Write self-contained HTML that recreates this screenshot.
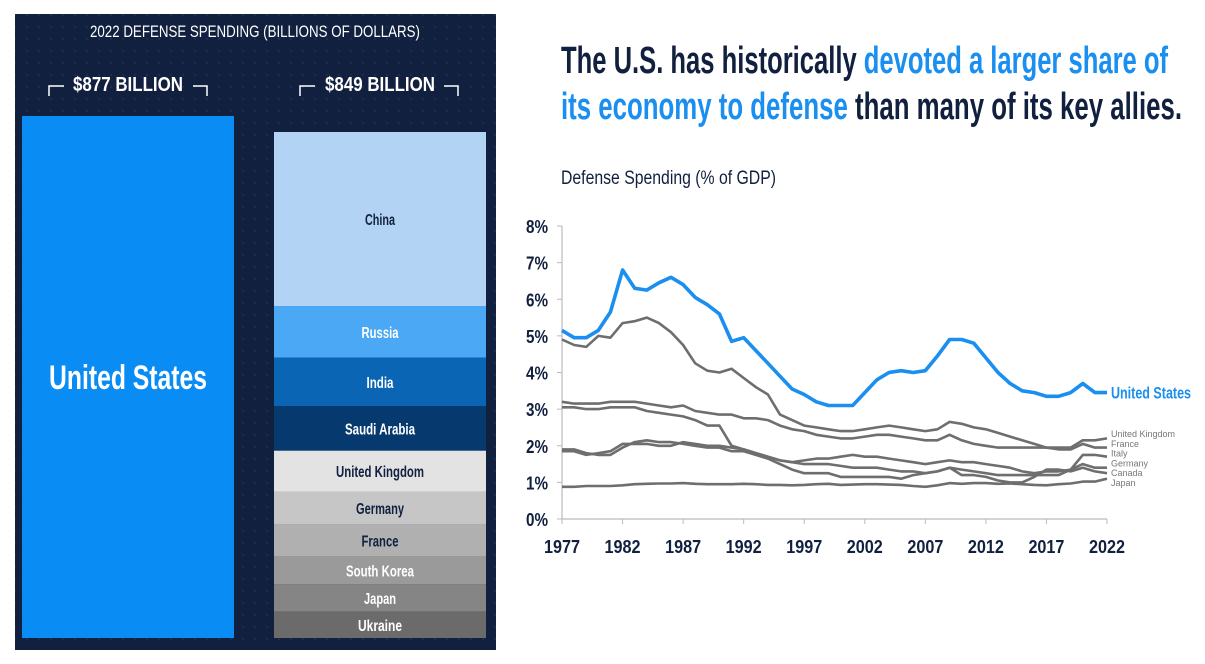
<!DOCTYPE html>
<html><head><meta charset="utf-8"><style>
html,body{margin:0;padding:0;background:#fff;width:1205px;height:664px;overflow:hidden}
svg{display:block;font-family:"Liberation Sans Narrow","Liberation Sans",sans-serif}
</style></head><body>
<svg id="root" width="1205" height="664" viewBox="0 0 1205 664" xmlns="http://www.w3.org/2000/svg">
<defs><pattern id="dots" width="12" height="12" patternUnits="userSpaceOnUse"><circle cx="3" cy="3" r="1.2" fill="#1b2b4d"/></pattern></defs>
<g>
<rect x="15" y="14" width="481" height="636" fill="#12203f"/>
<rect x="15" y="14" width="481" height="636" fill="url(#dots)"/>
<text x="255" y="37" text-anchor="middle" fill="#fff" font-size="17" textLength="330" lengthAdjust="spacingAndGlyphs">2022 DEFENSE SPENDING (BILLIONS OF DOLLARS)</text>
<g stroke="#fff" stroke-width="1.5" fill="none"><path d="M49,96 V86 H64"/><path d="M193,86 H207 V96"/><path d="M300,96 V86 H315"/><path d="M444,86 H458 V96"/></g>
<text x="128" y="91" text-anchor="middle" fill="#fff" font-size="20" font-weight="bold" textLength="110" lengthAdjust="spacingAndGlyphs">$877 BILLION</text>
<text x="380" y="91" text-anchor="middle" fill="#fff" font-size="20" font-weight="bold" textLength="110" lengthAdjust="spacingAndGlyphs">$849 BILLION</text>
<rect x="22" y="116" width="212" height="522" fill="#0a8cf5"/>
<text x="128" y="389" text-anchor="middle" fill="#fff" font-size="34" font-weight="bold" textLength="158" lengthAdjust="spacingAndGlyphs">United States</text>
<g id="stack"></g>
</g>
<g>
<text x="561" y="73" font-size="38" font-weight="bold" fill="#12203f" textLength="607" lengthAdjust="spacingAndGlyphs">The U.S. has historically <tspan fill="#1a8ff0">devoted a larger share of</tspan></text>
<text x="561" y="119" font-size="38" font-weight="bold" fill="#12203f" textLength="621" lengthAdjust="spacingAndGlyphs"><tspan fill="#1a8ff0">its economy to defense</tspan> than many of its key allies.</text>
<text x="561" y="184" font-size="19" fill="#12203f" textLength="215" lengthAdjust="spacingAndGlyphs">Defense Spending (% of GDP)</text>
<g id="chart"></g>
</g>
</svg>
<script>
const stackNames=["China","Russia","India","Saudi Arabia","United Kingdom","Germany","France","South Korea","Japan","Ukraine"];
const stackValues=[292,86.4,81.4,75,68.5,55.8,53.6,46.4,46,44];
const stackFill=["#b3d3f5","#4aa8f5","#0a65b5","#063a6e","#e3e3e3","#c6c6c6","#b0b0b0","#9a9a9a","#858585","#6b6b6b"];
const stackText=["#12203f","#fff","#fff","#fff","#12203f","#12203f","#12203f","#fff","#fff","#fff"];
const stackLabelW=[30,37,27,70,88,48,37,68,32,44];

const years=[];for(let y=1977;y<=2022;y++)years.push(y);
const usValues=[5.15,4.95,4.95,5.15,5.65,6.8,6.3,6.25,6.45,6.6,6.4,6.05,5.85,5.6,4.85,4.95,4.6,4.25,3.9,3.55,3.4,3.2,3.1,3.1,3.1,3.45,3.8,4.0,4.05,4.0,4.05,4.45,4.9,4.9,4.8,4.4,4.0,3.7,3.5,3.45,3.35,3.35,3.45,3.7,3.45,3.45];
const ukValues=[4.9,4.75,4.7,5.0,4.95,5.35,5.4,5.5,5.35,5.1,4.75,4.25,4.05,4.0,4.1,3.85,3.6,3.4,2.85,2.7,2.55,2.5,2.45,2.4,2.4,2.45,2.5,2.55,2.5,2.45,2.4,2.45,2.65,2.6,2.5,2.45,2.35,2.25,2.15,2.05,1.95,1.95,1.95,2.15,2.15,2.2];
const franceValues=[3.2,3.15,3.15,3.15,3.2,3.2,3.2,3.15,3.1,3.05,3.1,2.95,2.9,2.85,2.85,2.75,2.75,2.7,2.55,2.45,2.4,2.3,2.25,2.2,2.2,2.25,2.3,2.3,2.25,2.2,2.15,2.15,2.3,2.15,2.05,2.0,1.95,1.95,1.95,1.95,1.95,1.9,1.9,2.05,1.95,1.95];
const germanyValues=[3.05,3.05,3.0,3.0,3.05,3.05,3.05,2.95,2.9,2.85,2.8,2.7,2.55,2.55,2.0,1.9,1.8,1.7,1.6,1.55,1.5,1.5,1.5,1.45,1.4,1.4,1.4,1.35,1.3,1.3,1.25,1.3,1.4,1.35,1.3,1.25,1.2,1.2,1.2,1.2,1.2,1.2,1.35,1.5,1.4,1.4];
const italyValues=[1.85,1.85,1.75,1.8,1.85,2.05,2.05,2.05,2.0,2.0,2.1,2.05,2.0,2.0,1.95,1.9,1.8,1.7,1.6,1.55,1.6,1.65,1.65,1.7,1.75,1.7,1.7,1.65,1.6,1.55,1.5,1.55,1.6,1.55,1.55,1.5,1.45,1.4,1.3,1.25,1.3,1.3,1.35,1.75,1.75,1.7];
const canadaValues=[1.9,1.9,1.8,1.75,1.75,1.95,2.1,2.15,2.1,2.1,2.05,2.0,1.95,1.95,1.85,1.85,1.75,1.65,1.5,1.35,1.25,1.25,1.25,1.15,1.15,1.15,1.15,1.15,1.1,1.2,1.25,1.3,1.4,1.2,1.2,1.15,1.05,1.0,1.0,1.15,1.35,1.35,1.3,1.4,1.3,1.25];
const japanValues=[0.88,0.88,0.9,0.9,0.9,0.92,0.95,0.96,0.97,0.97,0.98,0.96,0.95,0.95,0.95,0.96,0.95,0.93,0.93,0.92,0.93,0.95,0.96,0.93,0.94,0.95,0.95,0.94,0.93,0.9,0.88,0.92,0.98,0.96,0.98,0.98,0.96,0.97,0.95,0.93,0.92,0.95,0.97,1.02,1.02,1.1];
const yTicks=[0,1,2,3,4,5,6,7,8];
const xTicks=[1977,1982,1987,1992,1997,2002,2007,2012,2017,2022];
const greyLabels=["United Kingdom","France","Italy","Germany","Canada","Japan"];

const NS="http://www.w3.org/2000/svg";
function mk(tag,attrs,parent,txt){const e=document.createElementNS(NS,tag);for(const k in attrs)e.setAttribute(k,attrs[k]);if(txt!==undefined)e.textContent=txt;parent.appendChild(e);return e;}

const stack=document.getElementById('stack');
const total=stackValues.reduce((a,b)=>a+b,0);
const sTop=132,sBot=638;
let cy=sTop;
stackValues.forEach((v,i)=>{
  const h=v/total*(sBot-sTop);
  const r=mk('rect',{x:274,y:cy,width:212,height:h,fill:stackFill[i]},stack);
  
  
  const t=mk('text',{x:380,y:cy+h/2+6,'text-anchor':'middle',fill:stackText[i],'font-size':16,'font-weight':'bold',textLength:stackLabelW[i],lengthAdjust:'spacingAndGlyphs'},stack,stackNames[i]);
  
  
  cy+=h;
});

const g=document.getElementById('chart');
const x0=562,x1=1107,yb=519,yt=226;
const xs=y=>x0+(y-1977)/(2022-1977)*(x1-x0);
const ys=v=>yb-v/8*(yb-yt);
const ax=mk('path',{d:`M${x0},${ys(8)} V${yb} H${x1}`,stroke:'#bbb','stroke-width':1.2,fill:'none'},g);


yTicks.forEach(t=>{
  mk('line',{x1:x0-5,x2:x0,y1:ys(t),y2:ys(t),stroke:'#bbb'},g);
  const l=mk('text',{x:548,y:ys(t)+7,'text-anchor':'end','font-size':18,'font-weight':'bold',fill:'#12203f',textLength:22,lengthAdjust:'spacingAndGlyphs'},g,t+'%');
  
  
});
xTicks.forEach(t=>{
  mk('line',{x1:xs(t),x2:xs(t),y1:yb,y2:yb+5,stroke:'#bbb'},g);
  const l=mk('text',{x:xs(t),y:553,'text-anchor':'middle','font-size':18,'font-weight':'bold',fill:'#12203f',textLength:36,lengthAdjust:'spacingAndGlyphs'},g,String(t));
  
  
});
function line(vals,color,w,name){
  const d=vals.map((v,i)=>(i?'L':'M')+xs(years[i]).toFixed(1)+','+ys(v).toFixed(1)).join(' ');
  const p=mk('path',{d:d,stroke:color,'stroke-width':w,fill:'none','stroke-linejoin':'round'},g);
  
  
}
[[japanValues,'line-japan'],[canadaValues,'line-canada'],[italyValues,'line-italy'],[germanyValues,'line-germany'],[franceValues,'line-france'],[ukValues,'line-united-kingdom']].forEach(s=>line(s[0],'#6e6e6e',2.6,s[1]));
line(usValues,'#1a8ff0',3.6,'line-united-states');
const ul=mk('text',{x:1111,y:ys(usValues[usValues.length-1])+6,'font-size':17,'font-weight':'bold',fill:'#1a8ff0',textLength:80,lengthAdjust:'spacingAndGlyphs'},g,'United States');


greyLabels.forEach((n,i)=>{
  const l=mk('text',{x:1111,y:437+i*9.8,'font-size':9,fill:'#777'},g,n);
  
  
});
</script>
</body></html>
